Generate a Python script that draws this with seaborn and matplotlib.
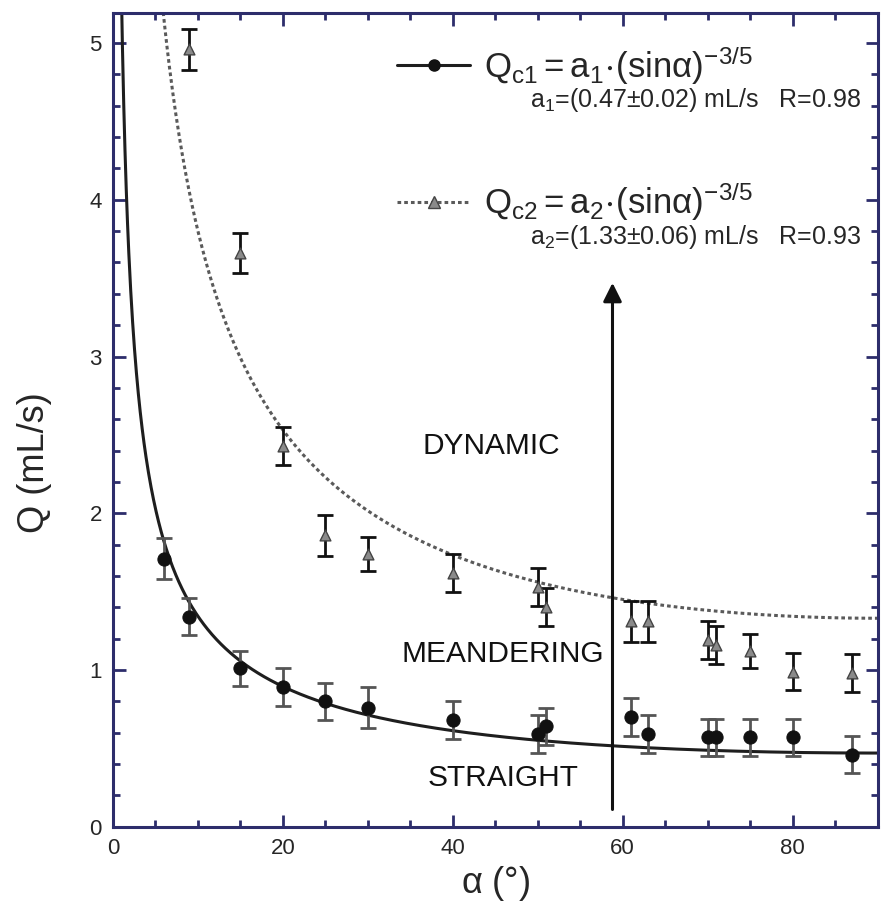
import numpy as np
import pandas as pd
import matplotlib
matplotlib.use("Agg")
import matplotlib.pyplot as plt
import seaborn as sns
from matplotlib.lines import Line2D
from matplotlib.ticker import MultipleLocator

# Critical flow rates versus inclination angle
alpha_c1 = [6, 9, 15, 20, 25, 30, 40, 50, 51, 61, 63, 70, 71, 75, 80, 87]
q_c1 = [1.71, 1.34, 1.01, 0.89, 0.80, 0.76, 0.68, 0.59, 0.64, 0.70, 0.59, 0.57, 0.57, 0.57, 0.57, 0.46]
q_c1_err = [0.13, 0.12, 0.11, 0.12, 0.12, 0.13, 0.12, 0.12, 0.12, 0.12, 0.12, 0.12, 0.12, 0.12, 0.12, 0.12]

alpha_c2 = [9, 15, 20, 25, 30, 40, 50, 51, 61, 63, 70, 71, 75, 80, 87]
q_c2 = [4.96, 3.66, 2.43, 1.86, 1.74, 1.62, 1.53, 1.40, 1.31, 1.31, 1.19, 1.16, 1.12, 0.99, 0.98]
q_c2_err = [0.13, 0.13, 0.12, 0.13, 0.11, 0.12, 0.12, 0.12, 0.13, 0.13, 0.12, 0.12, 0.11, 0.12, 0.12]

# Fit parameters of Q = a * (sin alpha)^(-3/5)
a1 = 0.47
a2 = 1.33
exponent = -3 / 5

region_labels = ["DYNAMIC", "MEANDERING", "STRAIGHT"]
region_x = [44.5, 45.9, 45.9]
region_y = [2.43, 1.10, 0.31]

sns.set_theme(style="ticks")
plt.rcParams["font.family"] = ["Liberation Sans", "DejaVu Sans"]
plt.rcParams["mathtext.fontset"] = "custom"
plt.rcParams["mathtext.rm"] = "Liberation Sans"
plt.rcParams["mathtext.it"] = "Liberation Sans"
plt.rcParams["mathtext.sf"] = "Liberation Sans"

fig = plt.figure(figsize=(8.82, 9.13), dpi=100)
ax = fig.add_axes([0.128, 0.0945, 0.867, 0.891])

fit_alpha = np.linspace(0.3, 90, 1200)
fit_df = pd.DataFrame({
    "alpha": fit_alpha,
    "q1": a1 * np.sin(np.radians(fit_alpha)) ** exponent,
    "q2": a2 * np.sin(np.radians(fit_alpha)) ** exponent,
})

sns.lineplot(data=fit_df, x="alpha", y="q1", ax=ax, color="#1e1e1e", lw=2.2)
sns.lineplot(data=fit_df, x="alpha", y="q2", ax=ax, color="#5a5a5a", lw=2.2,
             linestyle=(0, (1.2, 1.0)))

df1 = pd.DataFrame({"alpha": alpha_c1, "q": q_c1, "err": q_c1_err})
df2 = pd.DataFrame({"alpha": alpha_c2, "q": q_c2, "err": q_c2_err})

ax.errorbar(df1["alpha"], df1["q"], yerr=df1["err"], fmt="none",
            ecolor="#555555", elinewidth=2, capsize=6, capthick=2, zorder=3)
ax.errorbar(df2["alpha"], df2["q"], yerr=df2["err"], fmt="none",
            ecolor="#111111", elinewidth=2, capsize=6, capthick=2, zorder=3)

sns.scatterplot(data=df1, x="alpha", y="q", ax=ax, marker="o", s=90,
                color="#111111", edgecolor="#111111", zorder=4)
sns.scatterplot(data=df2, x="alpha", y="q", ax=ax, marker="^", s=60,
                color="#8a8a8a", edgecolor="#444444", linewidth=1, zorder=4)

for label, x, y in zip(region_labels, region_x, region_y):
    ax.text(x, y, label, ha="center", va="center", fontsize=21.5, color="#111111")

ax.annotate("", xy=(58.8, 3.47), xytext=(58.8, 0.11),
            arrowprops=dict(arrowstyle="-|>", lw=2.2, color="#111111",
                            mutation_scale=28, shrinkA=0, shrinkB=0))

handles = [
    Line2D([], [], color="#1e1e1e", lw=2.2, marker="o", markersize=8,
           markerfacecolor="#111111", markeredgecolor="#111111"),
    Line2D([], [], color="#5a5a5a", lw=2.2, linestyle=(0, (1.2, 1.0)),
           marker="^", markersize=8, markerfacecolor="#8a8a8a",
           markeredgecolor="#444444"),
]
labels = [
    r"$\mathregular{Q_{c1}=a_1\!\cdot\!(sin\alpha)^{-3/5}}$",
    r"$\mathregular{Q_{c2}=a_2\!\cdot\!(sin\alpha)^{-3/5}}$",
]
ax.legend(handles, labels, loc="upper left", bbox_to_anchor=(0.372, 0.962),
          frameon=False, fontsize=25, handlelength=2.1, handletextpad=0.4,
          labelspacing=2.7, borderpad=0, borderaxespad=0)

ax.text(0.979, 0.893, r"$\mathregular{a_1}$=(0.47±0.02) mL/s   R=0.98",
        transform=ax.transAxes, ha="right", va="center", fontsize=18)
ax.text(0.979, 0.725, r"$\mathregular{a_2}$=(1.33±0.06) mL/s   R=0.93",
        transform=ax.transAxes, ha="right", va="center", fontsize=18)

ax.set_xlim(0, 90)
ax.set_ylim(0, 5.19)
ax.xaxis.set_major_locator(MultipleLocator(20))
ax.xaxis.set_minor_locator(MultipleLocator(5))
ax.yaxis.set_major_locator(MultipleLocator(1))
ax.yaxis.set_minor_locator(MultipleLocator(0.2))

spine_color = "#2d2d6b"
for side in ax.spines.values():
    side.set_color(spine_color)
    side.set_linewidth(2.2)
ax.tick_params(which="both", direction="in", top=True, right=True,
               color=spine_color, width=2)
ax.tick_params(which="major", length=9, labelsize=16, pad=8)
ax.tick_params(which="minor", length=5)

ax.set_xlabel(r"$\mathregular{\alpha}$ (°)", fontsize=26, labelpad=4)
ax.set_ylabel("Q (mL/s)", fontsize=26)
ax.yaxis.set_label_coords(-0.08, 0.448)

fig.savefig("out.png", dpi=100)
